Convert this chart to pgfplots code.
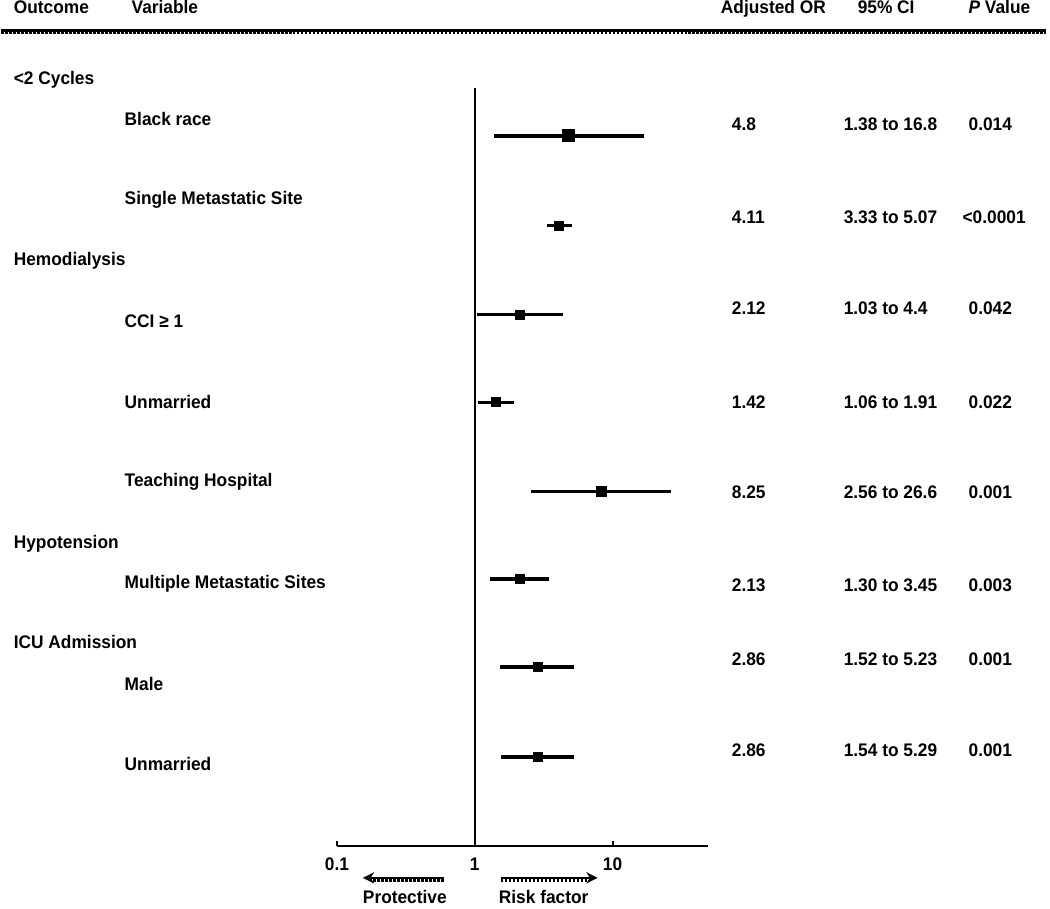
\documentclass[border=0pt]{standalone}
\usepackage{fontspec}
\setmainfont{Liberation Sans}[FakeStretch=0.95]
\usepackage{pgfplots}
\pgfplotsset{compat=1.18}
\usetikzlibrary{arrows.meta}
\newcommand\tf{\fontsize{7.3}{8.5}\selectfont\bfseries}

\begin{document}
\begin{tikzpicture}[x=0.4pt,y=0.4pt]
\path (0,0) rectangle (1050,910);
\begin{axis}[
  at={(134.4pt,25.2pt)}, anchor=south west,
  scale only axis, width=148.8pt, height=303.6pt,
  xmode=log, xmin=0.1, xmax=49.6,
  ymin=63, ymax=822,
  axis x line*=bottom, axis y line=none, ytick=\empty,
  xtick={0.1,1,10}, xticklabels={0.1,1,10},
  xminorticks=false, tick align=inside, major tick length=2pt,
  axis line style={line width=0.8pt},
  tick style={line width=0.8pt, black},
  /pgf/number format/assume math mode=true,
  xticklabel style={font=\tf, inner sep=0pt, anchor=base, yshift=-10pt},
  clip=false, unbounded coords=jump,
]
% line of no effect
\addplot[black, line width=0.8pt] coordinates {(1,63) (1,822)};
% 95% CI
\addplot[black, line width=1.4pt] coordinates {
  (1.38,774) (16.8,774) (nan,nan)
  (3.33,684) (5.07,684) (nan,nan)
  (1.03,595) (4.4,595) (nan,nan)
  (1.06,507) (1.91,507) (nan,nan)
  (2.56,418) (26.6,418) (nan,nan)
  (1.30,330) (3.45,330) (nan,nan)
  (1.52,242) (5.23,242) (nan,nan)
  (1.54,152) (5.29,152)
};
% adjusted OR
\addplot[only marks, mark=square*, mark size=2.4pt, black] coordinates {(4.8,774)};
\addplot[only marks, mark=square*, mark size=2pt, black] coordinates {(8.25,418)};
\addplot[only marks, mark=square*, mark size=1.8pt, black] coordinates {
  (4.11,684) (2.12,595) (1.42,507) (2.13,330) (2.86,242) (2.86,152)
};
\end{axis}

\begin{scope}[every node/.style={font=\tf, inner sep=0pt, anchor=base west}]
% header
\node at (12,896) {Outcome};
\node at (130,896) {Variable};
\node at (720,896) {Adjusted OR};
\node at (857,896) {95\% CI};
\node at (968,896) {{\itshape P} Value};
\draw[line width=1.1pt] (0,879.5) -- (1046,879.5);
\draw[line width=1.1pt, dash pattern=on 1pt off 0.6pt] (0,877) -- (1046,877);
% outcomes
\node at (12,825) {<2 Cycles};
\node at (12,644) {Hemodialysis};
\node at (12,361) {Hypotension};
\node at (12,261) {ICU Admission};
% variables
\node at (123,784) {Black race};
\node at (123,705) {Single Metastatic Site};
\node at (123,582) {CCI ≥ 1};
\node at (123,501) {Unmarried};
\node at (123,423) {Teaching Hospital};
\node at (123,321) {Multiple Metastatic Sites};
\node at (123,219) {Male};
\node at (123,138) {Unmarried};
% OR
\node at (731,779) {4.8};
\node at (731,686) {4.11};
\node at (731,595) {2.12};
\node at (731,501) {1.42};
\node at (731,411) {8.25};
\node at (731,318) {2.13};
\node at (731,244) {2.86};
\node at (731,153) {2.86};
% CI
\node at (843,779) {1.38 to 16.8};
\node at (843,686) {3.33 to 5.07};
\node at (843,595) {1.03 to 4.4};
\node at (843,501) {1.06 to 1.91};
\node at (843,411) {2.56 to 26.6};
\node at (843,318) {1.30 to 3.45};
\node at (843,244) {1.52 to 5.23};
\node at (843,153) {1.54 to 5.29};
% P
\node at (968,779) {0.014};
\node at (962,686) {<0.0001};
\node at (968,595) {0.042};
\node at (968,501) {0.022};
\node at (968,411) {0.001};
\node at (968,318) {0.003};
\node at (968,244) {0.001};
\node at (968,153) {0.001};
% direction arrows
\draw[line width=1pt, -{Stealth[length=4.5pt,width=4.5pt]}] (443,31) -- (362,31);
\draw[line width=1.1pt, dash pattern=on 1pt off 0.6pt] (443,28.5) -- (370,28.5);
\draw[line width=1pt, -{Stealth[length=4.5pt,width=4.5pt]}] (500,31) -- (597,31);
\draw[line width=1.1pt, dash pattern=on 1pt off 0.6pt] (500,28.5) -- (589,28.5);
\node[anchor=base] at (404,5) {Protective};
\node[anchor=base] at (543,5) {Risk factor};
\end{scope}
\end{tikzpicture}
\end{document}
